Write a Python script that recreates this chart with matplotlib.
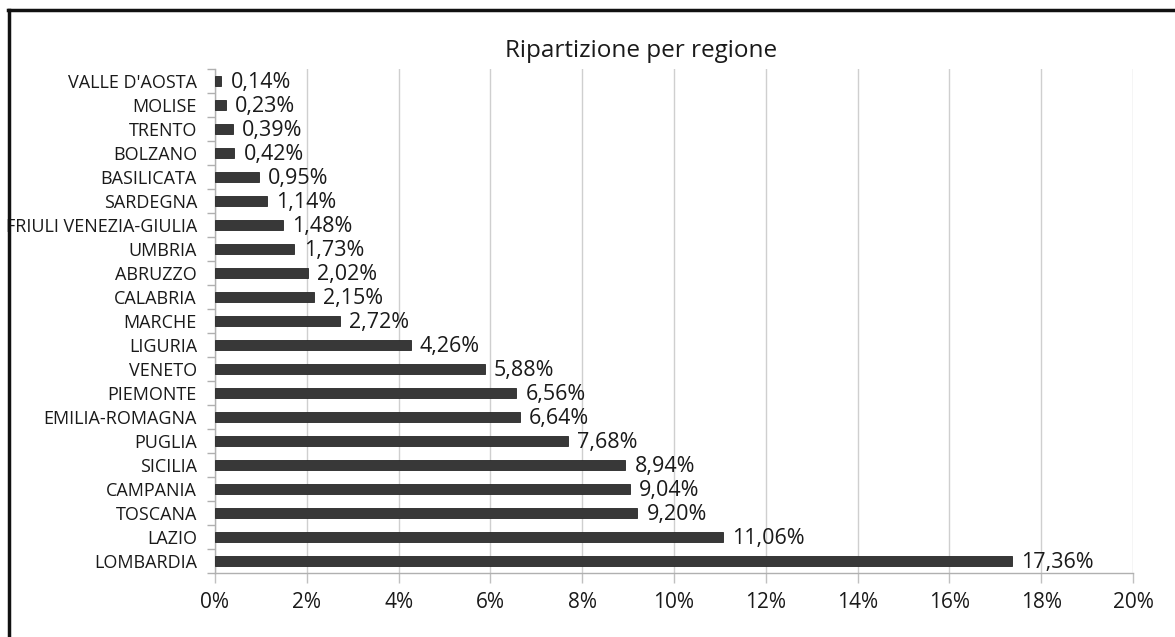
import matplotlib
matplotlib.use("Agg")
import matplotlib.pyplot as plt
from matplotlib.lines import Line2D
import numpy as np

plt.rcParams['font.family'] = ['Open Sans', 'DejaVu Sans']

regions = ["VALLE D'AOSTA", "MOLISE", "TRENTO", "BOLZANO", "BASILICATA", "SARDEGNA",
           "FRIULI VENEZIA-GIULIA", "UMBRIA", "ABRUZZO", "CALABRIA", "MARCHE", "LIGURIA",
           "VENETO", "PIEMONTE", "EMILIA-ROMAGNA", "PUGLIA", "SICILIA", "CAMPANIA",
           "TOSCANA", "LAZIO", "LOMBARDIA"]
values = [0.14, 0.23, 0.39, 0.42, 0.95, 1.14, 1.48, 1.73, 2.02, 2.15, 2.72, 4.26,
          5.88, 6.56, 6.64, 7.68, 8.94, 9.04, 9.20, 11.06, 17.36]
x_ticks = [0, 2, 4, 6, 8, 10, 12, 14, 16, 18, 20]
title = "Ripartizione per regione"

fig = plt.figure(figsize=(11.75, 6.37), dpi=100)
ax = fig.add_axes([215/1175, 1-573/637, (1133-215)/1175, (573-69)/637])

n = len(regions)
ypos = np.arange(n)
ax.barh(ypos, values, height=0.42, color='#383838', edgecolor='#262626', linewidth=0.6, zorder=3)
for y, v in zip(ypos, values):
    ax.text(v + 0.2, y + 0.05, f"{v:.2f}%".replace('.', ','), va='center', ha='left',
            fontsize=15.5, color='#1a1a1a', zorder=4)

ax.set_ylim(n - 0.5, -0.5)
ax.set_xlim(0, 20)
ax.set_yticks(ypos)
ax.set_yticklabels(regions, fontsize=13, color='#1a1a1a')
ax.set_yticks(np.arange(n + 1) - 0.5, minor=True)
ax.tick_params(axis='y', which='major', length=0, pad=13)
ax.tick_params(axis='y', which='minor', length=6, color='#b0b0b0', width=1)

ax.set_xticks(x_ticks)
ax.set_xticklabels([f"{t}%" for t in x_ticks], fontsize=15, color='#1a1a1a')
ax.tick_params(axis='x', which='major', length=7, color='#c0c0c0', width=1, pad=7)

ax.grid(axis='x', color='#cfcfcf', linewidth=1, zorder=0)
for s in ['top', 'right']:
    ax.spines[s].set_visible(False)
for s in ['left', 'bottom']:
    ax.spines[s].set_color('#b0b0b0')
    ax.spines[s].set_linewidth(1)

fig.text(641/1175, 1-51/637, title, ha='center', va='center', fontsize=17.5, color='#1a1a1a')

fig.add_artist(Line2D([8/1175, 1], [1-10/637, 1-10/637], transform=fig.transFigure,
                      color='#111111', linewidth=2.5, zorder=10))
fig.add_artist(Line2D([9/1175, 9/1175], [0, 1-10/637], transform=fig.transFigure,
                      color='#111111', linewidth=2.5, zorder=10))

fig.savefig("out.png", dpi=100)
